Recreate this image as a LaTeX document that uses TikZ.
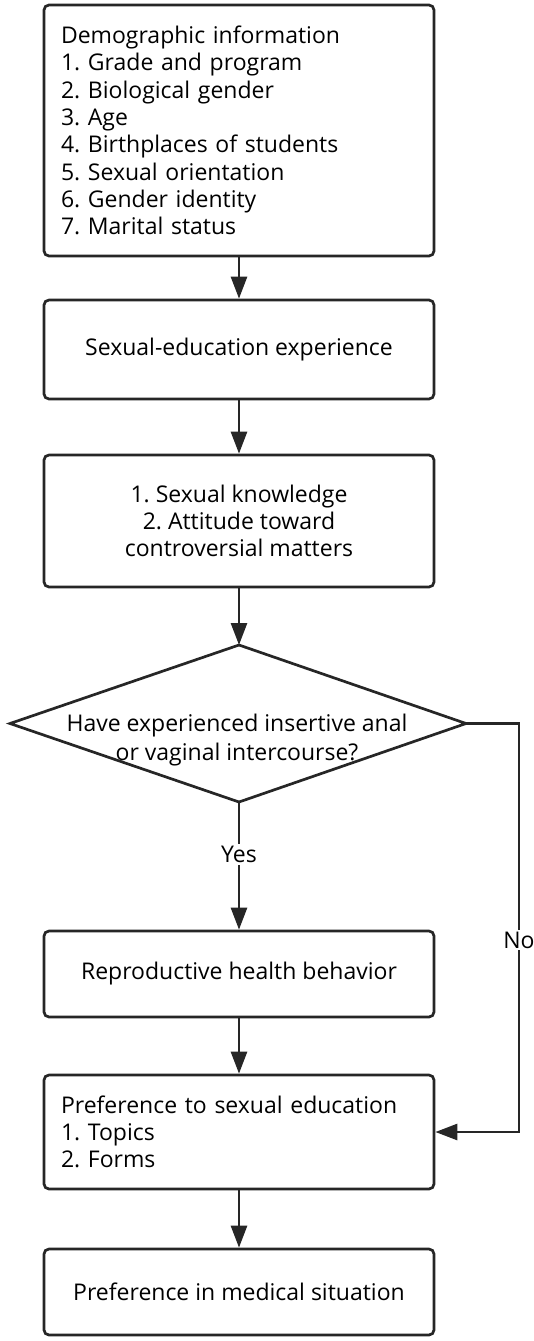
\documentclass[tikz,border=0pt]{standalone}
\usepackage{fontspec}
\setmainfont{Open Sans}
\usetikzlibrary{arrows.meta}
\frenchspacing
\begin{document}
\begin{tikzpicture}[x=1pt,y=-1pt,
  box/.style={draw=black!85, line width=2.7pt, rounded corners=5pt, minimum width=390pt, inner sep=0pt, font=\fontsize{23}{27.3}\selectfont, align=center},
  lbox/.style={box, align=left, text width=356pt},
  arr/.style={draw=black!85, line width=2.7pt, -{Triangle[length=22pt,width=16pt]}},
  lab/.style={fill=white, inner sep=2pt, font=\fontsize{23}{27.3}\selectfont}]
\useasboundingbox (0,0) rectangle (533,1341);
\node[lbox, minimum height=251pt] (b1) at (239,130.5) {Demographic information\\1. Grade and program\\2. Biological gender\\3. Age\\4. Birthplaces of students\\5. Sexual orientation\\6. Gender identity\\7. Marital status};
\node[box, minimum height=99pt] (b2) at (239,349.5) {Sexual-education experience};
\node[box, minimum height=132pt] (b3) at (239,521) {1. Sexual knowledge\\2. Attitude toward\\controversial matters};
\coordinate (dt) at (239,645);
\coordinate (dr) at (466,723.5);
\coordinate (db) at (239,802);
\coordinate (dl) at (10,723.5);
\draw[black!85, line width=2.7pt, line join=miter] (dt) -- (dr) -- (db) -- (dl) -- cycle;
\node[font=\fontsize{23}{28.5}\selectfont, align=center] (dq) at (237,740) {Have experienced insertive anal\\or vaginal intercourse?};
\node[box, minimum height=86pt] (b4) at (239,974) {Reproductive health behavior};
\node[lbox, minimum height=114pt] (b5) at (239,1132) {Preference to sexual education\\1. Topics\\2. Forms};
\node[box, minimum height=86pt] (b6) at (239,1292) {Preference in medical situation};
\coordinate (c1) at (519,723.5);
\coordinate (c2) at (519,1132);
\draw[arr] (b1) -- (b2);
\draw[arr] (b2) -- (b3);
\draw[arr] (b3) -- (dt);
\draw[arr] (db) -- node[lab, pos=0.41] (yes) {Yes} (b4);
\draw[arr] (b4) -- (b5);
\draw[arr] (b5) -- (b6);
\draw[arr] (dr) -- (c1) -- node[lab, pos=0.53] (no) {No} (c2) -- (b5.east);
\end{tikzpicture}
\end{document}
